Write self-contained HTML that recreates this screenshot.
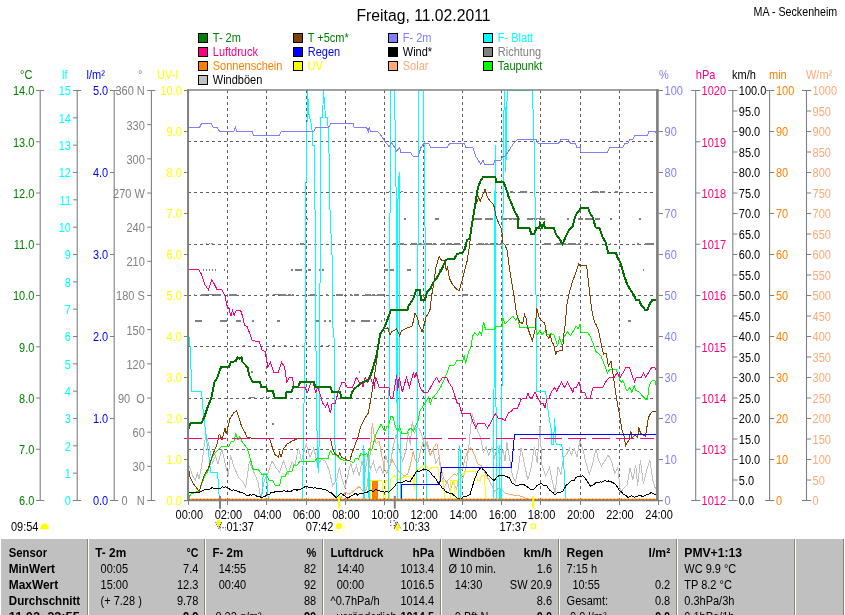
<!DOCTYPE html><html><head><meta charset="utf-8"><title>Freitag, 11.02.2011</title>
<style>html,body{margin:0;padding:0;background:#fff}svg{display:block;will-change:transform}text{font-family:"Liberation Sans",sans-serif;font-size:11px}.b{font-weight:bold}</style></head><body>
<svg width="845" height="615" viewBox="0 0 845 615">
<rect width="845" height="615" fill="#fff"/>
<text x="356.5" y="20.5" style="font-size:16px" textLength="134" lengthAdjust="spacingAndGlyphs">Freitag, 11.02.2011</text>
<text x="837.2" y="15" text-anchor="end" textLength="83.6" lengthAdjust="spacingAndGlyphs" transform="matrix(1 0 0 1.125 0 -0.887)">MA - Seckenheim</text>
<rect x="198.5" y="33.5" width="9" height="9" fill="#008000" stroke="#000" stroke-width="1" shape-rendering="crispEdges"/>
<text x="212.8" y="41.5" fill="#008000" transform="matrix(1 0 0 1.125 0 -4.200)">T- 2m</text>
<rect x="198.5" y="47.5" width="9" height="9" fill="#FF0080" stroke="#000" stroke-width="1" shape-rendering="crispEdges"/>
<text x="212.8" y="55.5" fill="#FF0080" transform="matrix(1 0 0 1.125 0 -5.950)">Luftdruck</text>
<rect x="198.5" y="61.5" width="9" height="9" fill="#FF8000" stroke="#000" stroke-width="1" shape-rendering="crispEdges"/>
<text x="212.8" y="69.5" fill="#FF8000" transform="matrix(1 0 0 1.125 0 -7.700)">Sonnenschein</text>
<rect x="198.5" y="75.5" width="9" height="9" fill="#C0C0C0" stroke="#000" stroke-width="1" shape-rendering="crispEdges"/>
<text x="212.8" y="83.5" fill="#000" transform="matrix(1 0 0 1.125 0 -9.450)">Windböen</text>
<rect x="293.5" y="33.5" width="9" height="9" fill="#804000" stroke="#000" stroke-width="1" shape-rendering="crispEdges"/>
<text x="307.8" y="41.5" fill="#008000" transform="matrix(1 0 0 1.125 0 -4.200)">T +5cm*</text>
<rect x="293.5" y="47.5" width="9" height="9" fill="#0000FF" stroke="#000" stroke-width="1" shape-rendering="crispEdges"/>
<text x="307.8" y="55.5" fill="#0000FF" transform="matrix(1 0 0 1.125 0 -5.950)">Regen</text>
<rect x="293.5" y="61.5" width="9" height="9" fill="#FFFF00" stroke="#000" stroke-width="1" shape-rendering="crispEdges"/>
<text x="307.8" y="69.5" fill="#FFFF00" transform="matrix(1 0 0 1.125 0 -7.700)">UV</text>
<rect x="388.5" y="33.5" width="9" height="9" fill="#8080FF" stroke="#000" stroke-width="1" shape-rendering="crispEdges"/>
<text x="402.8" y="41.5" fill="#8080FF" transform="matrix(1 0 0 1.125 0 -4.200)">F- 2m</text>
<rect x="388.5" y="47.5" width="9" height="9" fill="#000" stroke="#000" stroke-width="1" shape-rendering="crispEdges"/>
<text x="402.8" y="55.5" fill="#000" transform="matrix(1 0 0 1.125 0 -5.950)">Wind*</text>
<rect x="388.5" y="61.5" width="9" height="9" fill="#FFA878" stroke="#000" stroke-width="1" shape-rendering="crispEdges"/>
<text x="402.8" y="69.5" fill="#FFA878" transform="matrix(1 0 0 1.125 0 -7.700)">Solar</text>
<rect x="483.5" y="33.5" width="9" height="9" fill="#00FFFF" stroke="#000" stroke-width="1" shape-rendering="crispEdges"/>
<text x="497.8" y="41.5" fill="#00FFFF" transform="matrix(1 0 0 1.125 0 -4.200)">F- Blatt</text>
<rect x="483.5" y="47.5" width="9" height="9" fill="#808080" stroke="#000" stroke-width="1" shape-rendering="crispEdges"/>
<text x="497.8" y="55.5" fill="#808080" transform="matrix(1 0 0 1.125 0 -5.950)">Richtung</text>
<rect x="483.5" y="61.5" width="9" height="9" fill="#00FF00" stroke="#000" stroke-width="1" shape-rendering="crispEdges"/>
<text x="497.8" y="69.5" fill="#008000" transform="matrix(1 0 0 1.125 0 -7.700)">Taupunkt</text>
<defs><clipPath id="cp"><rect x="188" y="90" width="470" height="411"/></clipPath></defs>
<path d="M227.5 90V500 M266.5 90V500 M306.5 90V500 M345.5 90V500 M384.5 90V500 M423.5 90V500 M462.5 90V500 M501.5 90V500 M540.5 90V500 M580.5 90V500 M619.5 90V500 M188 141.50H657 M188 192.50H657 M188 244.50H657 M188 295.50H657 M188 346.50H657 M188 398.50H657 M188 449.50H657" stroke="#606060" stroke-width="1" stroke-dasharray="3 3" fill="none" shape-rendering="crispEdges"/>
<g clip-path="url(#cp)" shape-rendering="crispEdges">
<rect x="389.0" y="191.3" width="1.6" height="1.0" fill="#808080"/>
<rect x="401.0" y="191.3" width="1.6" height="1.0" fill="#808080"/>
<rect x="509.9" y="191.3" width="2.9" height="2.0" fill="#808080"/>
<rect x="519.6" y="191.3" width="7.3" height="2.0" fill="#808080"/>
<rect x="591.8" y="191.3" width="5.9" height="2.0" fill="#808080"/>
<rect x="599.6" y="191.3" width="5.3" height="2.0" fill="#808080"/>
<rect x="614.7" y="191.3" width="3.1" height="2.0" fill="#808080"/>
<rect x="306.5" y="217.5" width="1.6" height="2.0" fill="#808080"/>
<rect x="404.0" y="217.5" width="1.6" height="2.0" fill="#808080"/>
<rect x="435.1" y="217.5" width="3.9" height="2.0" fill="#808080"/>
<rect x="473.8" y="217.5" width="7.8" height="2.0" fill="#808080"/>
<rect x="484.5" y="217.5" width="8.8" height="2.0" fill="#808080"/>
<rect x="501.0" y="218.0" width="18.6" height="1" fill="#808080"/>
<rect x="501.0" y="217.5" width="6.0" height="2" fill="#808080"/>
<rect x="508.6" y="217.5" width="3.0" height="2" fill="#808080"/>
<rect x="513.2" y="217.5" width="6.4" height="2" fill="#808080"/>
<rect x="526.5" y="218.0" width="18.5" height="1" fill="#808080"/>
<rect x="526.5" y="217.5" width="6.0" height="2" fill="#808080"/>
<rect x="534.1" y="217.5" width="3.0" height="2" fill="#808080"/>
<rect x="538.7" y="217.5" width="6.3" height="2" fill="#808080"/>
<rect x="567.0" y="217.5" width="1.6" height="2.0" fill="#808080"/>
<rect x="578.2" y="217.5" width="4.8" height="2.0" fill="#808080"/>
<rect x="585.0" y="217.5" width="6.8" height="2.0" fill="#808080"/>
<rect x="594.8" y="217.5" width="4.8" height="2.0" fill="#808080"/>
<rect x="610.0" y="217.5" width="1.6" height="2.0" fill="#808080"/>
<rect x="639.2" y="217.5" width="1.6" height="2.0" fill="#808080"/>
<rect x="205.5" y="243.0" width="1.6" height="1.0" fill="#808080"/>
<rect x="208.5" y="243.0" width="1.6" height="1.0" fill="#808080"/>
<rect x="211.0" y="243.0" width="1.6" height="1.0" fill="#808080"/>
<rect x="300.1" y="243.0" width="4.3" height="2.0" fill="#808080"/>
<rect x="392.8" y="243.0" width="4.2" height="2.0" fill="#808080"/>
<rect x="399.0" y="243.0" width="4.5" height="2.0" fill="#808080"/>
<rect x="411.3" y="243.5" width="24.4" height="1" fill="#808080"/>
<rect x="411.3" y="243.0" width="6.0" height="2" fill="#808080"/>
<rect x="418.9" y="243.0" width="3.0" height="2" fill="#808080"/>
<rect x="423.5" y="243.0" width="8.0" height="2" fill="#808080"/>
<rect x="433.1" y="243.0" width="2.6" height="2" fill="#808080"/>
<rect x="440.6" y="243.0" width="4.4" height="2.0" fill="#808080"/>
<rect x="447.0" y="243.0" width="5.0" height="2.0" fill="#808080"/>
<rect x="454.0" y="243.0" width="6.0" height="2.0" fill="#808080"/>
<rect x="477.7" y="243.5" width="25.3" height="1" fill="#808080"/>
<rect x="477.7" y="243.0" width="6.0" height="2" fill="#808080"/>
<rect x="485.3" y="243.0" width="3.0" height="2" fill="#808080"/>
<rect x="489.9" y="243.0" width="8.0" height="2" fill="#808080"/>
<rect x="499.5" y="243.0" width="3.5" height="2" fill="#808080"/>
<rect x="544.0" y="243.0" width="6.9" height="2.0" fill="#808080"/>
<rect x="555.7" y="243.5" width="24.4" height="1" fill="#808080"/>
<rect x="555.7" y="243.0" width="6.0" height="2" fill="#808080"/>
<rect x="563.3" y="243.0" width="3.0" height="2" fill="#808080"/>
<rect x="567.9" y="243.0" width="8.0" height="2" fill="#808080"/>
<rect x="577.5" y="243.0" width="2.6" height="2" fill="#808080"/>
<rect x="585.0" y="243.0" width="3.0" height="2.0" fill="#808080"/>
<rect x="605.5" y="243.0" width="1.6" height="2.0" fill="#808080"/>
<rect x="609.5" y="243.0" width="1.8" height="2.0" fill="#808080"/>
<rect x="637.3" y="243.0" width="1.6" height="2.0" fill="#808080"/>
<rect x="644.5" y="243.0" width="9.8" height="2.0" fill="#808080"/>
<rect x="202.6" y="268.6" width="1.6" height="2.0" fill="#808080"/>
<rect x="205.6" y="268.6" width="1.6" height="2.0" fill="#808080"/>
<rect x="208.6" y="268.6" width="1.6" height="2.0" fill="#808080"/>
<rect x="211.6" y="268.6" width="1.6" height="2.0" fill="#808080"/>
<rect x="214.6" y="268.6" width="1.6" height="2.0" fill="#808080"/>
<rect x="223.5" y="268.6" width="1.6" height="2.0" fill="#808080"/>
<rect x="291.3" y="268.6" width="1.7" height="2.0" fill="#808080"/>
<rect x="295.0" y="268.6" width="7.0" height="2.0" fill="#808080"/>
<rect x="308.0" y="268.6" width="2.9" height="2.0" fill="#808080"/>
<rect x="318.7" y="268.6" width="1.8" height="2.0" fill="#808080"/>
<rect x="322.0" y="268.6" width="1.6" height="2.0" fill="#808080"/>
<rect x="384.0" y="268.6" width="4.0" height="2.0" fill="#808080"/>
<rect x="390.0" y="268.6" width="3.8" height="2.0" fill="#808080"/>
<rect x="407.4" y="268.6" width="3.6" height="2.0" fill="#808080"/>
<rect x="427.5" y="268.6" width="1.6" height="2.0" fill="#808080"/>
<rect x="438.7" y="268.6" width="2.9" height="2.0" fill="#808080"/>
<rect x="618.3" y="268.6" width="1.6" height="2.0" fill="#808080"/>
<rect x="642.5" y="268.6" width="1.6" height="2.0" fill="#808080"/>
<rect x="193.5" y="294.1" width="1.6" height="2.0" fill="#808080"/>
<rect x="200.6" y="294.1" width="5.4" height="2.0" fill="#808080"/>
<rect x="206.0" y="294.1" width="8.0" height="1.0" fill="#808080"/>
<rect x="214.0" y="294.1" width="7.0" height="2.0" fill="#808080"/>
<rect x="228.9" y="294.1" width="7.8" height="2.0" fill="#808080"/>
<rect x="266.0" y="294.1" width="3.0" height="2.0" fill="#808080"/>
<rect x="272.8" y="294.1" width="7.2" height="1.0" fill="#808080"/>
<rect x="280.0" y="294.6" width="14.3" height="1" fill="#808080"/>
<rect x="280.0" y="294.1" width="6.0" height="2" fill="#808080"/>
<rect x="287.6" y="294.1" width="3.0" height="2" fill="#808080"/>
<rect x="292.2" y="294.1" width="2.1" height="2" fill="#808080"/>
<rect x="309.9" y="294.1" width="5.8" height="2.0" fill="#808080"/>
<rect x="326.0" y="294.1" width="1.6" height="2.0" fill="#808080"/>
<rect x="336.2" y="294.1" width="6.8" height="2.0" fill="#808080"/>
<rect x="350.0" y="294.1" width="2.0" height="2.0" fill="#808080"/>
<rect x="354.0" y="294.1" width="4.7" height="2.0" fill="#808080"/>
<rect x="364.5" y="294.6" width="19.5" height="1" fill="#808080"/>
<rect x="364.5" y="294.1" width="6.0" height="2" fill="#808080"/>
<rect x="372.1" y="294.1" width="3.0" height="2" fill="#808080"/>
<rect x="376.7" y="294.1" width="7.3" height="2" fill="#808080"/>
<rect x="462.0" y="294.1" width="6.0" height="2.0" fill="#808080"/>
<rect x="194.8" y="319.7" width="6.8" height="2.0" fill="#808080"/>
<rect x="220.1" y="319.7" width="6.9" height="2.0" fill="#808080"/>
<rect x="236.1" y="319.7" width="4.5" height="2.0" fill="#808080"/>
<rect x="252.0" y="319.7" width="1.6" height="2.0" fill="#808080"/>
<rect x="276.7" y="319.7" width="3.3" height="2.0" fill="#808080"/>
<rect x="315.7" y="319.7" width="3.0" height="2.0" fill="#808080"/>
<rect x="324.0" y="319.7" width="1.6" height="2.0" fill="#808080"/>
<rect x="329.0" y="319.7" width="1.6" height="2.0" fill="#808080"/>
<rect x="345.0" y="319.7" width="3.0" height="2.0" fill="#808080"/>
<rect x="350.9" y="319.7" width="3.9" height="2.0" fill="#808080"/>
<rect x="360.6" y="319.7" width="9.8" height="2.0" fill="#808080"/>
<rect x="374.3" y="319.7" width="1.9" height="2.0" fill="#808080"/>
<rect x="380.5" y="319.7" width="1.6" height="2.0" fill="#808080"/>
<rect x="627.9" y="319.7" width="3.0" height="2.0" fill="#808080"/>
<rect x="243.0" y="345.3" width="1.6" height="1.0" fill="#808080"/>
<rect x="273.3" y="345.3" width="1.6" height="1.0" fill="#808080"/>
<rect x="284.0" y="345.3" width="1.6" height="1.0" fill="#808080"/>
<rect x="295.7" y="345.3" width="1.6" height="1.0" fill="#808080"/>
<rect x="321.0" y="345.3" width="1.6" height="1.0" fill="#808080"/>
<rect x="328.0" y="345.3" width="1.6" height="1.0" fill="#808080"/>
<rect x="251.0" y="370.8" width="1.6" height="2.0" fill="#808080"/>
<rect x="264.5" y="370.8" width="1.6" height="2.0" fill="#808080"/>
<rect x="358.5" y="370.8" width="1.6" height="2.0" fill="#808080"/>
<rect x="249.4" y="396.5" width="5.8" height="1.0" fill="#808080"/>
<rect x="262.5" y="396.5" width="1.6" height="1.0" fill="#808080"/>
<rect x="268.4" y="396.5" width="1.6" height="1.0" fill="#808080"/>
<rect x="272.3" y="423.0" width="1.6" height="2.0" fill="#808080"/>
</g>
<g clip-path="url(#cp)" shape-rendering="crispEdges">
<polyline points="189.2,465.7 192.6,476.1 195.4,479.9 197.3,473.3 199.2,479.0 202.0,462.9 205.8,433.5 208.7,444.9 212.5,462.9 215.3,456.3 218.1,463.8 221.9,448.7 225.7,465.7 228.2,476.1 230.5,455.3 234.2,467.6 239.0,478.0 242.8,481.8 245.6,487.5 249.4,461.9 253.2,470.5 257.9,481.8 260.8,497.9 264.5,479.9 268.3,472.3 272.1,461.0 275.9,467.6 279.7,472.3 283.5,461.0 288.2,474.2 292.0,461.9 294.8,465.7 298.6,447.7 301.5,461.0 306.2,443.9 310.0,457.2 313.8,447.7 317.6,465.7 321.4,459.1 325.2,461.0 328.9,469.5 332.7,485.6 336.5,479.9 339.4,467.6 342.2,479.9 345.0,487.5 346.9,479.9 350.7,462.9 353.5,473.3 356.4,465.7 359.2,476.1 362.0,461.0 364.9,472.3 367.7,457.2 370.6,468.6 373.4,461.9 376.3,472.3 380.0,465.7 382.9,473.3 385.7,455.3 389.5,468.6 393.3,445.8 396.1,434.5 399.0,449.6 402.8,461.0 405.6,451.5 408.4,432.3 410.3,445.0 412.3,420.6 414.3,434.3 416.2,427.4 419.1,428.4 421.7,434.5 424.5,445.8 427.4,442.0 430.2,455.3 433.1,449.6 435.9,462.9 438.8,457.2 441.6,476.1 444.4,487.5 447.3,481.8 450.1,491.3 453.0,481.8 456.7,489.4 459.6,468.6 462.4,479.9 466.2,467.6 469.1,443.9 470.9,425.0 472.2,413.8 474.8,422.6 477.7,431.3 480.4,436.4 483.3,452.5 486.1,446.8 488.9,455.3 491.8,447.7 494.6,457.2 497.5,445.8 500.3,459.1 503.1,449.6 505.0,461.0 506.9,442.0 509.7,459.1 512.6,476.1 515.4,481.8 518.3,468.6 521.1,447.7 523.9,461.0 527.7,479.9 530.6,470.5 534.4,446.8 537.2,462.9 540.0,426.5 541.9,464.8 545.7,476.1 549.5,467.6 553.3,485.6 555.2,493.2 558.0,466.7 560.9,474.2 563.7,457.2 566.6,454.4 569.4,448.7 571.3,455.3 574.1,448.7 577.0,457.2 579.8,441.0 582.7,448.7 585.5,461.0 589.3,474.2 592.1,465.7 595.9,448.7 598.8,461.0 601.6,465.7 605.4,460.0 608.2,455.3 611.1,460.0 614.8,473.3 617.7,467.6 620.5,492.2 624.3,487.5 627.2,484.7 630.0,467.6 632.8,479.9 635.7,464.8 637.6,485.6 640.4,460.0 643.3,483.7 647.0,468.6 649.9,460.0 652.7,479.9 655.6,489.4" fill="none" stroke="#C0C0C0" stroke-width="1" />
<polyline points="339.0,500.0 345.0,492.2 349.7,494.1 354.5,490.3 359.2,486.6 363.0,491.3 366.8,489.4 368.7,472.3 370.6,447.7 372.3,423.5 374.4,436.4 376.3,443.9 379.1,441.1 381.9,456.3 384.8,469.5 386.7,473.3 389.5,465.7 392.3,460.0 395.2,465.7 398.0,470.5 400.9,473.3 404.7,476.1 407.5,474.2 410.3,465.7 413.2,451.5 415.1,459.1 417.9,462.9 420.8,449.6 424.5,437.3 427.4,446.8 430.2,455.3 433.1,448.7 436.9,443.0 438.8,453.4 440.6,465.7 443.5,478.0 446.3,481.8 450.1,478.0 453.9,474.2 456.7,475.2 459.6,470.5 462.4,469.5 465.3,458.1 468.1,450.6 470.9,447.7 474.7,455.3 477.6,463.8 481.4,465.7 485.2,473.3 489.9,481.8 494.6,491.3 499.4,487.5 505.0,493.2 510.7,494.7 520.2,496.0 527.7,498.9 533.0,500.0" fill="none" stroke="#FFA878" stroke-width="1" />
<polyline points="370.6,500.0 371.0,480.5 381.9,480.5 383.8,500.0 385.7,500.0 385.7,480.5 388.0,480.5 388.5,500.0" fill="none" stroke="#FFFF00" stroke-width="1" />
<polyline points="389.5,500.0 390.5,480.0 394.2,475.2 397.1,480.0 401.8,478.0 405.0,476.1 411.3,477.0 413.5,480.0 414.3,490.3 415.1,471.4 420.8,467.6 425.5,463.8 428.3,470.5 432.1,467.6 437.8,467.6 439.7,480.0 443.5,480.0 444.4,500.0" fill="none" stroke="#FFFF00" stroke-width="1" />
<polyline points="450.1,500.0 450.1,480.0 453.9,480.0 454.4,500.0 454.8,480.0 458.6,480.0 462.4,475.2 466.2,471.4 475.7,471.4 477.6,480.0 480.4,480.0 481.4,475.2 484.2,475.2 486.1,500.0" fill="none" stroke="#FFFF00" stroke-width="1" />
<rect x="372" y="480.5" width="6.2" height="19.5" fill="#FF8000"/>
<polyline points="189.6,336.7 192.0,391.3 201.6,391.3 203.5,414.8 206.8,441.1 209.6,461.0 210.6,472.3 217.6,472.3 219.1,495.0 220.0,500.0" fill="none" stroke="#00FFFF" stroke-width="1" />
<polyline points="261.7,500.0 263.2,473.3 266.4,473.3 268.3,500.0" fill="none" stroke="#00FFFF" stroke-width="1" />
<polyline points="302.5,500.0 303.4,440.0 305.4,320.0 305.4,215.0 306.6,150.0 307.5,90.4 308.9,114.0 311.8,126.0 312.8,145.5 314.4,145.5 314.4,205.0 315.7,215.0 315.7,325.0 317.2,445.0 318.2,473.3 319.1,445.0 319.2,290.0 320.2,281.0 320.2,117.2 322.6,117.0 323.5,90.4 325.5,117.0 327.4,117.0 328.4,131.8 329.4,166.0 329.8,205.0 331.3,241.0 332.7,268.4 332.7,325.0 334.3,340.6 334.9,440.0 336.5,500.0" fill="none" stroke="#00FFFF" stroke-width="1" />
<polyline points="363.0,500.0 363.9,445.0 365.0,500.0" fill="none" stroke="#00FFFF" stroke-width="1" />
<polyline points="368.0,500.0 368.7,453.4 369.5,500.0" fill="none" stroke="#00FFFF" stroke-width="1" />
<polyline points="388.2,500.0 389.5,325.0 389.5,226.5 390.3,205.0 390.3,90.4 394.8,90.4 394.8,118.0 395.7,125.0 396.1,205.0 396.7,325.0 397.4,500.0" fill="none" stroke="#00FFFF" stroke-width="1" />
<polyline points="398.0,500.0 397.7,206.0 399.2,172.0 399.4,325.0 400.4,500.0" fill="none" stroke="#00FFFF" stroke-width="1" />
<polyline points="416.6,500.0 417.6,325.0 418.6,130.0 418.6,90.4 423.6,90.4 423.6,137.7 424.4,145.0 424.4,220.0 425.6,234.0 425.6,440.0 426.4,500.0" fill="none" stroke="#00FFFF" stroke-width="1" />
<polyline points="458.3,500.0 458.3,459.1 459.6,444.9 460.9,459.0 460.9,500.0" fill="none" stroke="#00FFFF" stroke-width="1" />
<polyline points="493.1,500.0 494.5,330.0 495.2,145.5 495.6,330.0 496.5,500.0" fill="none" stroke="#00FFFF" stroke-width="1" />
<polyline points="499.4,500.0 499.4,444.9 500.2,500.0" fill="none" stroke="#00FFFF" stroke-width="1" />
<polyline points="501.3,500.0 502.4,325.0 503.0,215.0 504.0,110.4 504.8,90.4 505.8,172.4 507.2,90.4 532.3,90.4 533.9,131.8 534.7,192.3 535.6,205.0 535.6,289.0 536.4,300.0 536.4,391.3 545.6,391.3 547.0,403.0 548.9,416.7 551.4,430.4 551.4,444.9 553.5,444.9 554.6,418.0 556.1,444.9 561.8,444.9 563.7,462.9 565.6,500.0" fill="none" stroke="#00FFFF" stroke-width="1" />
<polyline points="188.0,127.3 199.6,127.3 201.6,123.4 211.3,123.4 213.0,127.3 217.0,127.3 219.5,131.4 233.8,131.4 235.3,127.3 236.8,131.4 252.3,131.4 253.5,135.3 279.2,135.3 281.6,131.4 313.8,131.4 315.7,127.3 328.4,127.3 331.0,123.4 353.2,123.4 354.0,127.3 366.5,127.3 368.4,131.4 369.2,127.5 370.4,131.4 377.2,131.4 381.0,135.3 385.0,141.6 389.0,146.5 391.8,142.5 396.7,151.3 399.6,147.4 400.6,152.3 410.4,152.3 413.0,156.2 418.2,156.2 421.0,147.4 424.0,143.1 428.5,143.1 430.5,147.4 447.4,147.4 449.8,143.1 464.0,143.1 466.0,147.4 472.8,147.4 475.7,156.2 480.6,164.0 483.1,160.1 484.5,164.4 493.3,164.4 495.2,160.1 501.0,160.1 503.0,156.2 505.0,156.2 508.0,152.3 510.9,147.4 513.8,143.1 517.7,139.6 536.2,139.6 538.2,143.1 558.7,143.1 560.6,139.6 568.4,139.6 570.4,143.1 575.2,143.1 576.8,147.4 580.0,147.4 581.0,152.3 607.4,152.3 609.8,147.4 623.0,147.4 625.0,143.1 628.0,143.1 629.9,139.6 632.8,139.6 634.8,135.3 647.4,135.3 649.0,131.4 655.2,131.4 657.0,133.5" fill="none" stroke="#8080FF" stroke-width="1" />
<polyline points="188.0,500.0 188.8,497.9 190.7,494.1 195.0,492.5 199.2,491.0 200.2,488.4 203.9,478.0 208.7,469.5 212.5,456.3 216.3,451.5 221.0,446.8 228.6,446.8 231.4,441.1 233.9,441.1 235.8,433.5 238.0,440.2 239.9,436.4 241.8,441.1 247.5,448.7 250.3,459.1 253.2,469.1 257.9,469.1 261.7,474.2 266.4,474.2 269.3,480.9 273.1,480.9 275.0,485.2 279.7,485.2 281.6,476.1 285.4,476.1 287.3,471.0 292.0,471.0 293.9,465.7 296.7,465.7 299.6,461.6 314.7,461.6 316.6,458.7 328.0,458.7 330.5,450.6 332.7,454.4 336.5,455.3 341.3,459.7 349.7,461.0 353.5,462.9 355.4,458.1 358.3,459.1 361.1,453.4 363.9,455.3 366.8,453.4 367.7,456.3 369.6,448.7 371.5,450.6 373.4,443.9 376.2,433.3 381.1,424.5 385.0,431.3 387.0,426.5 388.3,427.4 390.9,416.3 392.8,416.7 395.7,427.4 397.7,431.3 399.6,426.5 401.6,433.3 407.4,433.3 408.4,429.4 411.3,428.4 413.3,431.3 416.2,424.5 418.2,420.6 420.1,410.9 423.0,406.0 426.0,402.0 428.5,396.8 430.3,404.0 431.8,399.1 436.7,393.3 440.6,387.4 444.5,378.7 447.4,371.8 449.4,365.6 454.3,365.0 457.2,360.1 463.0,360.1 464.4,355.2 465.6,364.0 467.9,354.3 470.9,346.5 472.8,335.7 474.8,332.8 477.7,335.7 479.6,331.8 481.6,334.8 483.5,322.0 484.5,325.0 485.5,329.9 494.3,329.9 496.2,326.0 502.1,326.0 503.0,318.0 505.0,324.0 512.8,316.2 515.7,320.0 517.7,317.2 519.6,327.0 535.2,327.0 537.2,334.8 540.1,329.9 542.0,334.8 545.0,330.9 547.0,334.8 550.9,333.8 553.8,334.8 557.7,345.5 559.6,337.7 561.6,343.5 563.5,337.7 567.4,331.8 570.4,335.7 573.3,330.9 576.2,326.0 578.2,328.9 580.1,324.0 581.1,332.8 587.9,332.8 590.9,337.7 593.8,345.5 595.7,351.3 600.6,355.2 604.5,365.0 607.4,372.8 609.4,369.9 616.2,369.9 618.2,374.8 621.1,382.6 623.0,380.6 627.0,391.3 629.9,387.4 631.8,392.3 634.2,385.5 635.7,390.4 639.6,392.3 642.6,396.2 645.5,399.1 647.4,399.1 649.4,384.5 652.3,380.6 654.9,380.6 657.0,388.4" fill="none" stroke="#00FF00" stroke-width="1" />
<polyline points="188.0,462.9 189.7,476.1 193.5,483.7 199.2,491.3 203.9,476.1 208.7,467.6 212.5,455.3 217.2,443.9 219.1,434.5 220.1,435.2 222.1,440.1 225.0,428.4 226.4,434.3 229.9,418.7 233.8,412.8 236.7,410.9 238.7,416.7 241.6,426.5 245.5,433.3 247.4,438.2 249.4,437.2 252.3,438.4 269.5,438.4 272.1,446.8 275.0,454.4 278.4,457.6 279.7,452.5 281.0,457.2 283.5,448.7 287.3,443.9 293.0,440.5 298.6,438.6 330.6,438.6 332.3,447.7 334.6,453.4 338.4,456.3 339.9,452.5 341.3,457.2 345.0,459.0 349.7,461.0 351.6,454.4 355.4,443.9 357.7,438.2 360.6,426.5 364.5,418.7 368.4,412.8 371.3,396.2 374.3,376.7 376.2,364.0 378.2,348.4 380.1,332.8 382.1,331.8 384.0,328.9 387.9,327.9 389.9,334.8 391.8,331.8 396.7,328.9 399.6,335.7 401.6,330.9 407.4,327.9 412.3,326.0 414.9,313.3 417.6,318.2 419.1,325.0 422.1,331.8 424.0,326.0 426.0,317.2 429.9,310.4 431.8,294.8 433.8,283.0 435.7,268.4 439.2,256.3 441.6,260.6 444.5,260.6 446.5,271.3 447.4,266.5 449.4,278.2 452.3,284.0 456.2,288.9 459.1,290.9 461.7,282.1 464.0,273.3 467.0,261.6 468.9,249.9 470.9,234.3 473.8,214.8 475.7,205.0 478.7,197.2 480.2,201.0 485.1,189.4 487.4,197.2 489.4,200.0 493.7,205.0 496.2,216.7 499.1,224.5 501.7,229.4 503.0,243.0 505.0,245.0 507.0,249.9 509.9,271.3 513.8,294.8 516.7,314.3 519.6,322.0 522.6,323.6 524.5,314.3 526.0,318.2 526.9,325.0 529.4,332.8 532.3,340.6 535.2,328.9 536.8,308.4 539.1,317.2 542.0,321.0 544.6,323.0 547.0,335.7 548.9,338.7 550.3,333.8 551.8,341.6 553.8,344.5 555.7,355.2 556.7,351.3 562.6,350.4 563.5,336.7 565.1,325.0 567.0,304.5 569.0,293.8 572.3,282.1 575.2,274.3 578.8,263.5 580.7,266.5 581.1,265.1 586.6,265.1 587.9,277.2 589.9,294.8 591.8,310.4 594.4,322.0 596.3,325.0 598.7,330.9 601.6,346.5 603.5,354.3 606.1,353.3 608.4,366.0 611.0,361.1 613.3,375.7 616.2,396.2 619.1,412.8 622.1,430.4 624.4,437.2 625.6,445.6 628.9,440.1 630.9,431.3 631.8,438.2 634.8,435.2 637.7,437.2 638.7,427.4 640.6,433.3 645.5,436.2 648.4,417.7 650.4,413.8 652.3,411.8 657.0,410.9" fill="none" stroke="#804000" stroke-width="1" />
<line x1="184.3" y1="438.5" x2="654" y2="438.5" stroke="#FF0080" stroke-width="1" stroke-dasharray="17.6 6.4"/>
<polyline points="188.0,269.0 198.3,269.0 201.6,274.3 204.5,284.0 208.4,289.9 211.7,280.1 214.3,284.0 217.2,289.9 222.0,289.9 225.0,295.7 227.0,305.5 229.0,308.4 230.9,316.2 232.4,310.4 234.2,315.2 236.1,310.4 240.6,310.4 242.6,316.2 244.5,325.0 247.4,327.0 252.3,340.6 259.1,341.6 262.1,350.4 265.0,351.3 267.9,367.0 270.3,362.1 273.8,372.4 278.3,372.4 281.6,362.1 284.5,367.0 286.9,382.2 289.4,377.3 292.3,377.3 294.3,387.0 305.0,387.4 307.5,392.3 310.9,382.2 312.8,382.2 315.7,392.3 317.7,387.4 319.6,392.3 322.6,403.0 325.5,407.0 327.4,403.0 330.4,412.8 332.3,403.0 335.2,403.0 338.2,392.3 340.1,387.0 342.0,382.6 345.0,382.6 347.0,387.0 352.8,387.0 356.3,377.3 359.6,382.6 361.6,382.6 363.1,387.0 365.1,377.3 367.4,382.6 370.4,377.3 372.3,382.6 374.3,387.0 375.8,377.3 379.1,387.0 388.9,387.0 390.3,398.2 392.8,398.2 396.7,375.3 397.7,391.3 399.2,377.3 402.2,392.3 406.5,377.3 409.4,387.4 413.3,372.8 414.9,377.3 416.2,372.4 420.1,387.4 423.0,392.3 427.9,392.3 433.8,381.6 436.7,377.3 439.2,382.6 442.6,377.3 446.5,377.3 449.4,383.5 452.3,387.4 455.2,397.2 457.2,403.0 459.1,403.0 461.7,413.2 469.9,413.2 471.8,418.7 473.8,423.5 475.7,427.8 477.7,423.5 484.5,423.5 487.4,427.8 490.4,423.5 495.2,413.4 498.2,418.3 502.1,418.7 505.0,420.6 507.0,415.7 508.9,412.8 511.8,410.9 513.8,408.0 517.7,408.0 520.6,400.1 522.6,398.2 526.5,398.2 528.0,392.9 530.0,398.2 532.3,397.2 535.2,392.3 538.2,399.1 541.1,403.0 543.0,403.0 545.0,408.0 547.0,398.8 548.9,398.8 550.9,392.9 554.8,387.4 556.7,391.3 558.7,387.0 561.6,382.2 564.5,387.4 567.4,382.2 570.4,387.4 572.9,392.3 574.3,387.4 576.2,387.4 579.1,382.2 581.5,392.3 584.6,392.3 587.0,398.2 589.9,398.2 593.2,387.4 602.6,387.4 605.5,382.2 609.4,377.3 614.3,377.3 617.2,372.8 620.1,377.3 623.0,372.8 626.0,367.5 629.5,367.5 631.8,374.8 634.8,382.2 636.1,377.3 641.6,377.3 643.5,372.8 645.9,377.3 648.4,372.8 651.7,367.5 654.9,367.5 657.0,371.4" fill="none" stroke="#FF0080" stroke-width="1" />
<polyline points="188.0,500.0 401.4,500.0 401.4,484.3 439.7,484.3 441.6,467.2 511.6,467.2 514.5,434.2 657.0,434.2" fill="none" stroke="#0000FF" stroke-width="1" />
<polyline points="188.0,492.5 189.6,492.3 191.3,493.0 192.9,492.2 194.5,492.9 196.1,492.6 197.8,492.1 199.4,492.7 201.0,491.1 202.7,490.9 204.3,489.6 205.9,489.2 207.6,489.3 209.2,489.6 210.8,488.1 212.4,487.9 214.1,488.3 215.7,488.9 217.3,488.5 219.0,488.0 220.6,488.4 222.2,486.6 223.9,487.4 225.5,486.7 227.1,487.5 228.7,488.4 230.4,489.6 232.0,490.6 233.6,489.7 235.3,490.4 236.9,490.9 238.5,491.3 240.2,492.4 241.8,492.5 243.4,493.2 245.0,494.1 246.7,495.4 248.3,495.3 249.9,494.9 251.6,495.1 253.2,494.6 254.8,494.9 256.5,496.0 258.1,496.4 259.7,496.3 261.3,497.5 263.0,496.9 264.6,496.6 266.2,495.5 267.9,494.0 269.5,494.4 271.1,492.5 272.8,492.3 274.4,492.2 276.0,490.8 277.6,491.7 279.3,491.4 280.9,492.0 282.5,491.4 284.2,490.5 285.8,491.3 287.4,491.0 289.1,492.1 290.7,491.4 292.3,490.6 293.9,489.7 295.6,489.9 297.2,490.1 298.8,489.4 300.5,489.6 302.1,488.2 303.7,487.7 305.4,486.2 307.0,486.4 308.6,487.1 310.2,487.2 311.9,487.6 313.5,488.2 315.1,487.4 316.8,488.2 318.4,488.0 320.0,488.3 321.7,488.5 323.3,489.8 324.9,489.4 326.5,490.1 328.2,490.9 329.8,492.6 331.4,492.7 333.1,494.5 334.7,496.0 336.3,497.7 338.0,496.2 339.6,494.5 341.2,493.4 342.8,494.6 344.5,495.5 346.1,497.1 347.7,498.1 349.4,497.0 351.0,496.1 352.6,495.1 354.3,494.1 355.9,493.5 357.5,495.1 359.1,494.1 360.8,493.3 362.4,493.5 364.0,492.9 365.7,492.4 367.3,492.1 368.9,490.9 370.6,490.6 372.2,491.2 373.8,491.4 375.4,489.6 377.1,490.1 378.7,490.5 380.3,491.3 382.0,491.9 383.6,492.0 385.2,492.0 386.9,491.6 388.5,492.4 390.1,490.9 391.7,489.3 393.4,487.9 395.0,485.7 396.6,483.3 398.3,482.4 399.9,482.7 401.5,482.8 403.2,481.8 404.8,481.2 406.4,480.3 408.0,481.9 409.7,481.9 411.3,479.6 412.9,477.0 414.6,474.5 416.2,472.0 417.8,470.9 419.5,471.2 421.1,470.8 422.7,469.4 424.3,469.4 426.0,469.4 427.6,470.1 429.2,471.1 430.9,473.0 432.5,475.9 434.1,476.8 435.8,478.6 437.4,482.0 439.0,483.7 440.6,485.5 442.3,488.2 443.9,489.1 445.5,491.4 447.2,492.6 448.8,493.0 450.4,493.3 452.1,493.6 453.7,495.1 455.3,496.1 456.9,497.9 458.6,498.4 460.2,499.5 461.8,498.1 463.5,496.8 465.1,496.6 466.7,496.1 468.4,495.3 470.0,494.6 471.6,489.3 473.2,483.9 474.9,478.4 476.5,474.4 478.1,470.7 479.8,468.9 481.4,467.5 483.0,469.3 484.7,470.7 486.3,472.8 487.9,475.3 489.5,476.6 491.2,478.5 492.8,479.6 494.4,480.5 496.1,478.2 497.7,476.4 499.3,475.6 501.0,475.3 502.6,475.1 504.2,475.5 505.8,476.2 507.5,477.0 509.1,477.6 510.7,480.7 512.4,483.7 514.0,483.8 515.6,485.5 517.3,485.9 518.9,485.0 520.5,484.3 522.1,484.1 523.8,484.3 525.4,485.9 527.0,486.3 528.7,488.0 530.3,489.2 531.9,489.1 533.6,489.6 535.2,488.0 536.8,485.8 538.4,484.5 540.1,484.0 541.7,483.6 543.3,485.3 545.0,485.8 546.6,485.4 548.2,488.2 549.9,490.3 551.5,491.6 553.1,492.8 554.7,494.7 556.4,493.6 558.0,492.2 559.6,492.8 561.3,491.9 562.9,491.1 564.5,488.4 566.2,485.0 567.8,484.2 569.4,482.7 571.0,480.9 572.7,480.7 574.3,480.2 575.9,477.5 577.6,476.4 579.2,476.3 580.8,477.0 582.5,475.8 584.1,477.2 585.7,478.9 587.3,481.7 589.0,483.9 590.6,486.5 592.2,485.4 593.9,484.6 595.5,482.8 597.1,482.8 598.8,482.8 600.4,481.9 602.0,482.1 603.6,481.3 605.3,480.6 606.9,481.9 608.5,481.0 610.2,481.6 611.8,482.1 613.4,483.0 615.1,483.9 616.7,486.0 618.3,488.5 619.9,491.1 621.6,492.0 623.2,494.6 624.8,495.0 626.5,495.9 628.1,497.4 629.7,496.4 631.4,495.8 633.0,496.3 634.6,497.2 636.2,496.6 637.9,496.1 639.5,495.1 641.1,495.8 642.8,496.7 644.4,496.0 646.0,495.2 647.7,494.2 649.3,493.9 650.9,492.5 652.5,493.4 654.2,494.3 655.8,494.9" fill="none" stroke="#000" stroke-width="1" />
<polyline points="188.0,430.0 188.8,427.4 190.9,422.6 201.6,422.6 204.5,416.7 208.4,405.0 211.3,398.2 214.3,382.6 217.2,377.7 221.1,367.0 228.9,367.0 230.9,362.1 235.7,361.1 237.7,357.2 239.6,358.5 241.6,357.2 242.6,362.1 247.4,367.0 249.4,375.7 252.3,381.6 260.1,381.6 261.1,386.5 266.0,386.5 267.9,391.3 272.8,391.3 274.8,397.6 285.5,397.6 286.5,392.3 291.3,392.3 293.3,387.0 298.2,387.0 300.1,382.2 313.8,382.2 315.3,387.0 330.4,387.0 332.3,391.9 340.1,391.9 341.1,397.6 350.9,397.6 351.8,392.3 354.8,388.4 359.6,384.5 363.5,381.6 367.4,380.6 370.4,375.7 373.3,367.0 376.2,356.2 378.2,346.5 380.1,333.8 383.0,329.9 385.5,325.0 390.9,310.0 407.4,310.0 408.4,306.0 413.3,298.7 416.2,289.9 419.7,289.9 421.1,299.6 425.0,299.6 427.0,291.8 430.9,287.9 432.8,283.0 436.7,278.2 441.6,269.4 445.5,260.6 448.4,258.7 454.3,258.7 457.2,253.8 462.1,252.8 465.0,248.9 467.0,240.1 469.9,238.2 472.8,218.7 475.3,205.0 477.7,188.4 480.6,180.6 483.5,176.7 495.2,176.7 496.2,181.6 503.0,181.6 505.0,185.5 509.0,198.0 511.8,204.0 514.8,211.8 518.3,217.7 518.3,228.0 529.4,228.0 531.3,233.9 534.3,233.9 536.2,228.4 539.1,228.0 540.1,223.5 542.0,228.0 544.0,223.5 545.0,228.0 553.8,228.0 556.1,234.3 559.6,239.1 562.6,244.0 565.5,237.2 569.4,229.4 572.3,227.4 575.2,216.7 577.2,212.8 581.1,208.0 588.0,208.0 589.9,212.8 592.8,217.7 595.7,227.4 599.6,228.4 602.6,237.2 605.5,242.0 608.4,253.4 616.2,253.4 618.2,259.6 620.1,261.6 624.0,275.2 627.0,284.0 630.9,290.9 633.8,294.8 635.7,299.6 638.7,299.6 641.6,305.5 645.1,309.8 647.4,309.8 649.4,304.5 652.3,300.0 657.0,300.0" fill="none" stroke="#007000" stroke-width="2" stroke-linejoin="miter"/>
</g>
<line x1="184.3" y1="438.5" x2="189" y2="438.5" stroke="#FF0080" stroke-width="1" shape-rendering="crispEdges"/>
<line x1="189" y1="499.4" x2="657" y2="499.4" stroke="#FF8000" stroke-width="1.4"/>
<line x1="189" y1="499.4" x2="657" y2="499.4" stroke="#806040" stroke-width="1.4" stroke-dasharray="1 2.6"/>
<line x1="184" y1="500.6" x2="663" y2="500.6" stroke="#808080" stroke-width="1.1"/>
<line x1="188.05" y1="89.2" x2="188.05" y2="501" stroke="#808080" stroke-width="2"/>
<line x1="657.4" y1="89.2" x2="657.4" y2="501" stroke="#808080" stroke-width="2.7"/>
<line x1="187.1" y1="89.95" x2="658.8" y2="89.95" stroke="#808080" stroke-width="1.6"/>
<path d="M188.5 500V505 M227.5 500V505 M266.5 500V505 M306.5 500V505 M345.5 500V505 M384.5 500V505 M423.5 500V505 M462.5 500V505 M501.5 500V505 M540.5 500V505 M580.5 500V505 M619.5 500V505 M658.5 500V505" stroke="#808080" stroke-width="1" fill="none"/>
<line x1="220" y1="496" x2="220" y2="508.7" stroke="#808080" stroke-width="2"/>
<line x1="394.8" y1="496" x2="394.8" y2="508.7" stroke="#808080" stroke-width="2"/>
<line x1="339" y1="496" x2="339" y2="508.7" stroke="#FFFF00" stroke-width="2"/>
<line x1="533.2" y1="496" x2="533.2" y2="508.7" stroke="#FFFF00" stroke-width="2"/>
<line x1="40.2" y1="90" x2="40.2" y2="500.5" stroke="#808080" stroke-width="1.1"/>
<text x="34.3" y="94.4" fill="#008000" text-anchor="end" xml:space="preserve" transform="matrix(1 0 0 1.125 0 -10.812)">14.0</text>
<text x="34.3" y="145.7" fill="#008000" text-anchor="end" xml:space="preserve" transform="matrix(1 0 0 1.125 0 -17.225)">13.0</text>
<text x="34.3" y="196.9" fill="#008000" text-anchor="end" xml:space="preserve" transform="matrix(1 0 0 1.125 0 -23.625)">12.0</text>
<text x="34.3" y="248.2" fill="#008000" text-anchor="end" xml:space="preserve" transform="matrix(1 0 0 1.125 0 -30.037)">11.0</text>
<text x="34.3" y="299.4" fill="#008000" text-anchor="end" xml:space="preserve" transform="matrix(1 0 0 1.125 0 -36.438)">10.0</text>
<text x="34.3" y="350.6" fill="#008000" text-anchor="end" xml:space="preserve" transform="matrix(1 0 0 1.125 0 -42.838)">9.0</text>
<text x="34.3" y="401.9" fill="#008000" text-anchor="end" xml:space="preserve" transform="matrix(1 0 0 1.125 0 -49.250)">8.0</text>
<text x="34.3" y="453.1" fill="#008000" text-anchor="end" xml:space="preserve" transform="matrix(1 0 0 1.125 0 -55.650)">7.0</text>
<text x="34.3" y="504.4" fill="#008000" text-anchor="end" xml:space="preserve" transform="matrix(1 0 0 1.125 0 -62.062)">6.0</text>
<path d="M36.0 90.50H44.2 M36.0 141.75H40.2 M36.0 193.00H40.2 M36.0 244.25H40.2 M36.0 295.50H40.2 M36.0 346.75H40.2 M36.0 398.00H40.2 M36.0 449.25H40.2 M36.0 500.50H44.2" stroke="#808080" stroke-width="1" fill="none"/>
<text x="20.0" y="77.7" fill="#008000" transform="matrix(1 0 0 1.125 0 -8.725)">°C</text>
<line x1="77.2" y1="90" x2="77.2" y2="500.5" stroke="#808080" stroke-width="1.1"/>
<text x="71.0" y="94.4" fill="#00FFFF" text-anchor="end" xml:space="preserve" transform="matrix(1 0 0 1.125 0 -10.812)">15</text>
<text x="71.0" y="121.7" fill="#00FFFF" text-anchor="end" xml:space="preserve" transform="matrix(1 0 0 1.125 0 -14.225)">14</text>
<text x="71.0" y="149.1" fill="#00FFFF" text-anchor="end" xml:space="preserve" transform="matrix(1 0 0 1.125 0 -17.650)">13</text>
<text x="71.0" y="176.4" fill="#00FFFF" text-anchor="end" xml:space="preserve" transform="matrix(1 0 0 1.125 0 -21.062)">12</text>
<text x="71.0" y="203.7" fill="#00FFFF" text-anchor="end" xml:space="preserve" transform="matrix(1 0 0 1.125 0 -24.475)">11</text>
<text x="71.0" y="231.1" fill="#00FFFF" text-anchor="end" xml:space="preserve" transform="matrix(1 0 0 1.125 0 -27.900)">10</text>
<text x="71.0" y="258.4" fill="#00FFFF" text-anchor="end" xml:space="preserve" transform="matrix(1 0 0 1.125 0 -31.312)">9</text>
<text x="71.0" y="285.7" fill="#00FFFF" text-anchor="end" xml:space="preserve" transform="matrix(1 0 0 1.125 0 -34.725)">8</text>
<text x="71.0" y="313.1" fill="#00FFFF" text-anchor="end" xml:space="preserve" transform="matrix(1 0 0 1.125 0 -38.150)">7</text>
<text x="71.0" y="340.4" fill="#00FFFF" text-anchor="end" xml:space="preserve" transform="matrix(1 0 0 1.125 0 -41.562)">6</text>
<text x="71.0" y="367.7" fill="#00FFFF" text-anchor="end" xml:space="preserve" transform="matrix(1 0 0 1.125 0 -44.975)">5</text>
<text x="71.0" y="395.1" fill="#00FFFF" text-anchor="end" xml:space="preserve" transform="matrix(1 0 0 1.125 0 -48.400)">4</text>
<text x="71.0" y="422.4" fill="#00FFFF" text-anchor="end" xml:space="preserve" transform="matrix(1 0 0 1.125 0 -51.812)">3</text>
<text x="71.0" y="449.7" fill="#00FFFF" text-anchor="end" xml:space="preserve" transform="matrix(1 0 0 1.125 0 -55.225)">2</text>
<text x="71.0" y="477.1" fill="#00FFFF" text-anchor="end" xml:space="preserve" transform="matrix(1 0 0 1.125 0 -58.650)">1</text>
<text x="71.0" y="504.4" fill="#00FFFF" text-anchor="end" xml:space="preserve" transform="matrix(1 0 0 1.125 0 -62.062)">0</text>
<path d="M73.0 90.50H81.2 M73.0 117.83H77.2 M73.0 145.17H77.2 M73.0 172.50H77.2 M73.0 199.83H77.2 M73.0 227.17H77.2 M73.0 254.50H77.2 M73.0 281.83H77.2 M73.0 309.17H77.2 M73.0 336.50H77.2 M73.0 363.83H77.2 M73.0 391.17H77.2 M73.0 418.50H77.2 M73.0 445.83H77.2 M73.0 473.17H77.2 M73.0 500.50H81.2" stroke="#808080" stroke-width="1" fill="none"/>
<text x="62.0" y="77.7" fill="#00FFFF" transform="matrix(1 0 0 1.125 0 -8.725)">lf</text>
<line x1="114.2" y1="90" x2="114.2" y2="500.5" stroke="#808080" stroke-width="1.1"/>
<text x="108.2" y="94.4" fill="#0000FF" text-anchor="end" xml:space="preserve" transform="matrix(1 0 0 1.125 0 -10.812)">5.0</text>
<text x="108.2" y="176.4" fill="#0000FF" text-anchor="end" xml:space="preserve" transform="matrix(1 0 0 1.125 0 -21.062)">4.0</text>
<text x="108.2" y="258.4" fill="#0000FF" text-anchor="end" xml:space="preserve" transform="matrix(1 0 0 1.125 0 -31.312)">3.0</text>
<text x="108.2" y="340.4" fill="#0000FF" text-anchor="end" xml:space="preserve" transform="matrix(1 0 0 1.125 0 -41.562)">2.0</text>
<text x="108.2" y="422.4" fill="#0000FF" text-anchor="end" xml:space="preserve" transform="matrix(1 0 0 1.125 0 -51.812)">1.0</text>
<text x="108.2" y="504.4" fill="#0000FF" text-anchor="end" xml:space="preserve" transform="matrix(1 0 0 1.125 0 -62.062)">0.0</text>
<path d="M110.0 90.50H118.2 M110.0 172.50H114.2 M110.0 254.50H114.2 M110.0 336.50H114.2 M110.0 418.50H114.2 M110.0 500.50H118.2" stroke="#808080" stroke-width="1" fill="none"/>
<text x="86.5" y="77.7" fill="#0000FF" transform="matrix(1 0 0 1.125 0 -8.725)">l/m²</text>
<line x1="151.4" y1="90" x2="151.4" y2="500.5" stroke="#808080" stroke-width="1.1"/>
<text x="144.8" y="94.4" fill="#808080" text-anchor="end" xml:space="preserve" transform="matrix(1 0 0 1.125 0 -10.812)">360 N</text>
<text x="144.8" y="128.6" fill="#808080" text-anchor="end" xml:space="preserve" transform="matrix(1 0 0 1.125 0 -15.087)">330</text>
<text x="144.8" y="162.7" fill="#808080" text-anchor="end" xml:space="preserve" transform="matrix(1 0 0 1.125 0 -19.350)">300</text>
<text x="144.8" y="196.9" fill="#808080" text-anchor="end" xml:space="preserve" transform="matrix(1 0 0 1.125 0 -23.625)">270 W</text>
<text x="144.8" y="231.1" fill="#808080" text-anchor="end" xml:space="preserve" transform="matrix(1 0 0 1.125 0 -27.900)">240</text>
<text x="144.8" y="265.2" fill="#808080" text-anchor="end" xml:space="preserve" transform="matrix(1 0 0 1.125 0 -32.163)">210</text>
<text x="144.8" y="299.4" fill="#808080" text-anchor="end" xml:space="preserve" transform="matrix(1 0 0 1.125 0 -36.438)">180 S</text>
<text x="144.8" y="333.6" fill="#808080" text-anchor="end" xml:space="preserve" transform="matrix(1 0 0 1.125 0 -40.713)">150</text>
<text x="144.8" y="367.7" fill="#808080" text-anchor="end" xml:space="preserve" transform="matrix(1 0 0 1.125 0 -44.975)">120</text>
<text x="144.8" y="401.9" fill="#808080" text-anchor="end" xml:space="preserve" transform="matrix(1 0 0 1.125 0 -49.250)">90  O</text>
<text x="144.8" y="436.1" fill="#808080" text-anchor="end" xml:space="preserve" transform="matrix(1 0 0 1.125 0 -53.525)">60</text>
<text x="144.8" y="470.2" fill="#808080" text-anchor="end" xml:space="preserve" transform="matrix(1 0 0 1.125 0 -57.788)">30</text>
<text x="144.8" y="504.4" fill="#808080" text-anchor="end" xml:space="preserve" transform="matrix(1 0 0 1.125 0 -62.062)">0   N</text>
<path d="M147.2 90.50H155.4 M147.2 124.67H151.4 M147.2 158.83H151.4 M147.2 193.00H151.4 M147.2 227.17H151.4 M147.2 261.33H151.4 M147.2 295.50H151.4 M147.2 329.67H151.4 M147.2 363.83H151.4 M147.2 398.00H151.4 M147.2 432.17H151.4 M147.2 466.33H151.4 M147.2 500.50H155.4" stroke="#808080" stroke-width="1" fill="none"/>
<text x="138.0" y="77.7" fill="#808080" transform="matrix(1 0 0 1.125 0 -8.725)">°</text>
<text x="181.8" y="94.4" fill="#FFFF00" text-anchor="end" xml:space="preserve" transform="matrix(1 0 0 1.125 0 -10.812)">10.0</text>
<text x="181.8" y="135.4" fill="#FFFF00" text-anchor="end" xml:space="preserve" transform="matrix(1 0 0 1.125 0 -15.938)">9.0</text>
<text x="181.8" y="176.4" fill="#FFFF00" text-anchor="end" xml:space="preserve" transform="matrix(1 0 0 1.125 0 -21.062)">8.0</text>
<text x="181.8" y="217.4" fill="#FFFF00" text-anchor="end" xml:space="preserve" transform="matrix(1 0 0 1.125 0 -26.188)">7.0</text>
<text x="181.8" y="258.4" fill="#FFFF00" text-anchor="end" xml:space="preserve" transform="matrix(1 0 0 1.125 0 -31.312)">6.0</text>
<text x="181.8" y="299.4" fill="#FFFF00" text-anchor="end" xml:space="preserve" transform="matrix(1 0 0 1.125 0 -36.438)">5.0</text>
<text x="181.8" y="340.4" fill="#FFFF00" text-anchor="end" xml:space="preserve" transform="matrix(1 0 0 1.125 0 -41.562)">4.0</text>
<text x="181.8" y="381.4" fill="#FFFF00" text-anchor="end" xml:space="preserve" transform="matrix(1 0 0 1.125 0 -46.688)">3.0</text>
<text x="181.8" y="422.4" fill="#FFFF00" text-anchor="end" xml:space="preserve" transform="matrix(1 0 0 1.125 0 -51.812)">2.0</text>
<text x="181.8" y="463.4" fill="#FFFF00" text-anchor="end" xml:space="preserve" transform="matrix(1 0 0 1.125 0 -56.938)">1.0</text>
<text x="181.8" y="504.4" fill="#FFFF00" text-anchor="end" xml:space="preserve" transform="matrix(1 0 0 1.125 0 -62.062)">0.0</text>
<path d="M183.9 90.50H188.1 M183.9 131.50H188.1 M183.9 172.50H188.1 M183.9 213.50H188.1 M183.9 254.50H188.1 M183.9 295.50H188.1 M183.9 336.50H188.1 M183.9 377.50H188.1 M183.9 418.50H188.1 M183.9 459.50H188.1 M183.9 500.50H188.1" stroke="#808080" stroke-width="1" fill="none"/>
<text x="157.0" y="77.7" fill="#FFFF00" transform="matrix(1 0 0 1.125 0 -8.725)">UV-I</text>
<text x="664.6" y="94.4" fill="#8080FF" text-anchor="start" xml:space="preserve" transform="matrix(1 0 0 1.125 0 -10.812)">100</text>
<text x="664.6" y="135.4" fill="#8080FF" text-anchor="start" xml:space="preserve" transform="matrix(1 0 0 1.125 0 -15.938)">90</text>
<text x="664.6" y="176.4" fill="#8080FF" text-anchor="start" xml:space="preserve" transform="matrix(1 0 0 1.125 0 -21.062)">80</text>
<text x="664.6" y="217.4" fill="#8080FF" text-anchor="start" xml:space="preserve" transform="matrix(1 0 0 1.125 0 -26.188)">70</text>
<text x="664.6" y="258.4" fill="#8080FF" text-anchor="start" xml:space="preserve" transform="matrix(1 0 0 1.125 0 -31.312)">60</text>
<text x="664.6" y="299.4" fill="#8080FF" text-anchor="start" xml:space="preserve" transform="matrix(1 0 0 1.125 0 -36.438)">50</text>
<text x="664.6" y="340.4" fill="#8080FF" text-anchor="start" xml:space="preserve" transform="matrix(1 0 0 1.125 0 -41.562)">40</text>
<text x="664.6" y="381.4" fill="#8080FF" text-anchor="start" xml:space="preserve" transform="matrix(1 0 0 1.125 0 -46.688)">30</text>
<text x="664.6" y="422.4" fill="#8080FF" text-anchor="start" xml:space="preserve" transform="matrix(1 0 0 1.125 0 -51.812)">20</text>
<text x="664.6" y="463.4" fill="#8080FF" text-anchor="start" xml:space="preserve" transform="matrix(1 0 0 1.125 0 -56.938)">10</text>
<text x="664.6" y="504.4" fill="#8080FF" text-anchor="start" xml:space="preserve" transform="matrix(1 0 0 1.125 0 -62.062)">0</text>
<path d="M658.3 90.50H663.0 M658.3 131.50H663.0 M658.3 172.50H663.0 M658.3 213.50H663.0 M658.3 254.50H663.0 M658.3 295.50H663.0 M658.3 336.50H663.0 M658.3 377.50H663.0 M658.3 418.50H663.0 M658.3 459.50H663.0 M658.3 500.50H663.0" stroke="#808080" stroke-width="1" fill="none"/>
<text x="659.0" y="77.7" fill="#8080FF" transform="matrix(1 0 0 1.125 0 -8.725)">%</text>
<line x1="695.7" y1="90" x2="695.7" y2="500.5" stroke="#808080" stroke-width="1.1"/>
<text x="701.6" y="94.4" fill="#FF0080" text-anchor="start" xml:space="preserve" transform="matrix(1 0 0 1.125 0 -10.812)">1020</text>
<text x="701.6" y="145.7" fill="#FF0080" text-anchor="start" xml:space="preserve" transform="matrix(1 0 0 1.125 0 -17.225)">1019</text>
<text x="701.6" y="196.9" fill="#FF0080" text-anchor="start" xml:space="preserve" transform="matrix(1 0 0 1.125 0 -23.625)">1018</text>
<text x="701.6" y="248.2" fill="#FF0080" text-anchor="start" xml:space="preserve" transform="matrix(1 0 0 1.125 0 -30.037)">1017</text>
<text x="701.6" y="299.4" fill="#FF0080" text-anchor="start" xml:space="preserve" transform="matrix(1 0 0 1.125 0 -36.438)">1016</text>
<text x="701.6" y="350.6" fill="#FF0080" text-anchor="start" xml:space="preserve" transform="matrix(1 0 0 1.125 0 -42.838)">1015</text>
<text x="701.6" y="401.9" fill="#FF0080" text-anchor="start" xml:space="preserve" transform="matrix(1 0 0 1.125 0 -49.250)">1014</text>
<text x="701.6" y="453.1" fill="#FF0080" text-anchor="start" xml:space="preserve" transform="matrix(1 0 0 1.125 0 -55.650)">1013</text>
<text x="701.6" y="504.4" fill="#FF0080" text-anchor="start" xml:space="preserve" transform="matrix(1 0 0 1.125 0 -62.062)">1012</text>
<path d="M691.2 90.50H700.4 M695.7 141.75H700.4 M695.7 193.00H700.4 M695.7 244.25H700.4 M695.7 295.50H700.4 M695.7 346.75H700.4 M695.7 398.00H700.4 M695.7 449.25H700.4 M691.2 500.50H700.4" stroke="#808080" stroke-width="1" fill="none"/>
<text x="695.8" y="77.7" fill="#FF0080" transform="matrix(1 0 0 1.125 0 -8.725)">hPa</text>
<line x1="732.8" y1="90" x2="732.8" y2="500.5" stroke="#808080" stroke-width="1.1"/>
<text x="738.8" y="94.4" fill="#000" text-anchor="start" xml:space="preserve" transform="matrix(1 0 0 1.125 0 -10.812)">100.0</text>
<text x="738.8" y="114.9" fill="#000" text-anchor="start" xml:space="preserve" transform="matrix(1 0 0 1.125 0 -13.375)">95.0</text>
<text x="738.8" y="135.4" fill="#000" text-anchor="start" xml:space="preserve" transform="matrix(1 0 0 1.125 0 -15.938)">90.0</text>
<text x="738.8" y="155.9" fill="#000" text-anchor="start" xml:space="preserve" transform="matrix(1 0 0 1.125 0 -18.500)">85.0</text>
<text x="738.8" y="176.4" fill="#000" text-anchor="start" xml:space="preserve" transform="matrix(1 0 0 1.125 0 -21.062)">80.0</text>
<text x="738.8" y="196.9" fill="#000" text-anchor="start" xml:space="preserve" transform="matrix(1 0 0 1.125 0 -23.625)">75.0</text>
<text x="738.8" y="217.4" fill="#000" text-anchor="start" xml:space="preserve" transform="matrix(1 0 0 1.125 0 -26.188)">70.0</text>
<text x="738.8" y="237.9" fill="#000" text-anchor="start" xml:space="preserve" transform="matrix(1 0 0 1.125 0 -28.750)">65.0</text>
<text x="738.8" y="258.4" fill="#000" text-anchor="start" xml:space="preserve" transform="matrix(1 0 0 1.125 0 -31.312)">60.0</text>
<text x="738.8" y="278.9" fill="#000" text-anchor="start" xml:space="preserve" transform="matrix(1 0 0 1.125 0 -33.875)">55.0</text>
<text x="738.8" y="299.4" fill="#000" text-anchor="start" xml:space="preserve" transform="matrix(1 0 0 1.125 0 -36.438)">50.0</text>
<text x="738.8" y="319.9" fill="#000" text-anchor="start" xml:space="preserve" transform="matrix(1 0 0 1.125 0 -39.000)">45.0</text>
<text x="738.8" y="340.4" fill="#000" text-anchor="start" xml:space="preserve" transform="matrix(1 0 0 1.125 0 -41.562)">40.0</text>
<text x="738.8" y="360.9" fill="#000" text-anchor="start" xml:space="preserve" transform="matrix(1 0 0 1.125 0 -44.125)">35.0</text>
<text x="738.8" y="381.4" fill="#000" text-anchor="start" xml:space="preserve" transform="matrix(1 0 0 1.125 0 -46.688)">30.0</text>
<text x="738.8" y="401.9" fill="#000" text-anchor="start" xml:space="preserve" transform="matrix(1 0 0 1.125 0 -49.250)">25.0</text>
<text x="738.8" y="422.4" fill="#000" text-anchor="start" xml:space="preserve" transform="matrix(1 0 0 1.125 0 -51.812)">20.0</text>
<text x="738.8" y="442.9" fill="#000" text-anchor="start" xml:space="preserve" transform="matrix(1 0 0 1.125 0 -54.375)">15.0</text>
<text x="738.8" y="463.4" fill="#000" text-anchor="start" xml:space="preserve" transform="matrix(1 0 0 1.125 0 -56.938)">10.0</text>
<text x="738.8" y="483.9" fill="#000" text-anchor="start" xml:space="preserve" transform="matrix(1 0 0 1.125 0 -59.500)">5.0</text>
<text x="738.8" y="504.4" fill="#000" text-anchor="start" xml:space="preserve" transform="matrix(1 0 0 1.125 0 -62.062)">0.0</text>
<path d="M728.3 90.50H737.5 M732.8 111.00H737.5 M732.8 131.50H737.5 M732.8 152.00H737.5 M732.8 172.50H737.5 M732.8 193.00H737.5 M732.8 213.50H737.5 M732.8 234.00H737.5 M732.8 254.50H737.5 M732.8 275.00H737.5 M732.8 295.50H737.5 M732.8 316.00H737.5 M732.8 336.50H737.5 M732.8 357.00H737.5 M732.8 377.50H737.5 M732.8 398.00H737.5 M732.8 418.50H737.5 M732.8 439.00H737.5 M732.8 459.50H737.5 M732.8 480.00H737.5 M728.3 500.50H737.5" stroke="#808080" stroke-width="1" fill="none"/>
<text x="732.0" y="77.7" fill="#000" transform="matrix(1 0 0 1.125 0 -8.725)">km/h</text>
<line x1="769.6" y1="90" x2="769.6" y2="500.5" stroke="#808080" stroke-width="1.1"/>
<text x="776.0" y="94.4" fill="#FF8000" text-anchor="start" xml:space="preserve" transform="matrix(1 0 0 1.125 0 -10.812)">100</text>
<text x="776.0" y="135.4" fill="#FF8000" text-anchor="start" xml:space="preserve" transform="matrix(1 0 0 1.125 0 -15.938)">90</text>
<text x="776.0" y="176.4" fill="#FF8000" text-anchor="start" xml:space="preserve" transform="matrix(1 0 0 1.125 0 -21.062)">80</text>
<text x="776.0" y="217.4" fill="#FF8000" text-anchor="start" xml:space="preserve" transform="matrix(1 0 0 1.125 0 -26.188)">70</text>
<text x="776.0" y="258.4" fill="#FF8000" text-anchor="start" xml:space="preserve" transform="matrix(1 0 0 1.125 0 -31.312)">60</text>
<text x="776.0" y="299.4" fill="#FF8000" text-anchor="start" xml:space="preserve" transform="matrix(1 0 0 1.125 0 -36.438)">50</text>
<text x="776.0" y="340.4" fill="#FF8000" text-anchor="start" xml:space="preserve" transform="matrix(1 0 0 1.125 0 -41.562)">40</text>
<text x="776.0" y="381.4" fill="#FF8000" text-anchor="start" xml:space="preserve" transform="matrix(1 0 0 1.125 0 -46.688)">30</text>
<text x="776.0" y="422.4" fill="#FF8000" text-anchor="start" xml:space="preserve" transform="matrix(1 0 0 1.125 0 -51.812)">20</text>
<text x="776.0" y="463.4" fill="#FF8000" text-anchor="start" xml:space="preserve" transform="matrix(1 0 0 1.125 0 -56.938)">10</text>
<text x="776.0" y="504.4" fill="#FF8000" text-anchor="start" xml:space="preserve" transform="matrix(1 0 0 1.125 0 -62.062)">0</text>
<path d="M765.1 90.50H774.3 M769.6 131.50H774.3 M769.6 172.50H774.3 M769.6 213.50H774.3 M769.6 254.50H774.3 M769.6 295.50H774.3 M769.6 336.50H774.3 M769.6 377.50H774.3 M769.6 418.50H774.3 M769.6 459.50H774.3 M765.1 500.50H774.3" stroke="#808080" stroke-width="1" fill="none"/>
<text x="769.0" y="77.7" fill="#FF8000" transform="matrix(1 0 0 1.125 0 -8.725)">min</text>
<line x1="806.5" y1="90" x2="806.5" y2="500.5" stroke="#808080" stroke-width="1.1"/>
<text x="812.6" y="94.4" fill="#FFA878" text-anchor="start" xml:space="preserve" transform="matrix(1 0 0 1.125 0 -10.812)">1000</text>
<text x="812.6" y="114.9" fill="#FFA878" text-anchor="start" xml:space="preserve" transform="matrix(1 0 0 1.125 0 -13.375)">950</text>
<text x="812.6" y="135.4" fill="#FFA878" text-anchor="start" xml:space="preserve" transform="matrix(1 0 0 1.125 0 -15.938)">900</text>
<text x="812.6" y="155.9" fill="#FFA878" text-anchor="start" xml:space="preserve" transform="matrix(1 0 0 1.125 0 -18.500)">850</text>
<text x="812.6" y="176.4" fill="#FFA878" text-anchor="start" xml:space="preserve" transform="matrix(1 0 0 1.125 0 -21.062)">800</text>
<text x="812.6" y="196.9" fill="#FFA878" text-anchor="start" xml:space="preserve" transform="matrix(1 0 0 1.125 0 -23.625)">750</text>
<text x="812.6" y="217.4" fill="#FFA878" text-anchor="start" xml:space="preserve" transform="matrix(1 0 0 1.125 0 -26.188)">700</text>
<text x="812.6" y="237.9" fill="#FFA878" text-anchor="start" xml:space="preserve" transform="matrix(1 0 0 1.125 0 -28.750)">650</text>
<text x="812.6" y="258.4" fill="#FFA878" text-anchor="start" xml:space="preserve" transform="matrix(1 0 0 1.125 0 -31.312)">600</text>
<text x="812.6" y="278.9" fill="#FFA878" text-anchor="start" xml:space="preserve" transform="matrix(1 0 0 1.125 0 -33.875)">550</text>
<text x="812.6" y="299.4" fill="#FFA878" text-anchor="start" xml:space="preserve" transform="matrix(1 0 0 1.125 0 -36.438)">500</text>
<text x="812.6" y="319.9" fill="#FFA878" text-anchor="start" xml:space="preserve" transform="matrix(1 0 0 1.125 0 -39.000)">450</text>
<text x="812.6" y="340.4" fill="#FFA878" text-anchor="start" xml:space="preserve" transform="matrix(1 0 0 1.125 0 -41.562)">400</text>
<text x="812.6" y="360.9" fill="#FFA878" text-anchor="start" xml:space="preserve" transform="matrix(1 0 0 1.125 0 -44.125)">350</text>
<text x="812.6" y="381.4" fill="#FFA878" text-anchor="start" xml:space="preserve" transform="matrix(1 0 0 1.125 0 -46.688)">300</text>
<text x="812.6" y="401.9" fill="#FFA878" text-anchor="start" xml:space="preserve" transform="matrix(1 0 0 1.125 0 -49.250)">250</text>
<text x="812.6" y="422.4" fill="#FFA878" text-anchor="start" xml:space="preserve" transform="matrix(1 0 0 1.125 0 -51.812)">200</text>
<text x="812.6" y="442.9" fill="#FFA878" text-anchor="start" xml:space="preserve" transform="matrix(1 0 0 1.125 0 -54.375)">150</text>
<text x="812.6" y="463.4" fill="#FFA878" text-anchor="start" xml:space="preserve" transform="matrix(1 0 0 1.125 0 -56.938)">100</text>
<text x="812.6" y="483.9" fill="#FFA878" text-anchor="start" xml:space="preserve" transform="matrix(1 0 0 1.125 0 -59.500)">50</text>
<text x="812.6" y="504.4" fill="#FFA878" text-anchor="start" xml:space="preserve" transform="matrix(1 0 0 1.125 0 -62.062)">0</text>
<path d="M802.0 90.50H811.2 M806.5 111.00H811.2 M806.5 131.50H811.2 M806.5 152.00H811.2 M806.5 172.50H811.2 M806.5 193.00H811.2 M806.5 213.50H811.2 M806.5 234.00H811.2 M806.5 254.50H811.2 M806.5 275.00H811.2 M806.5 295.50H811.2 M806.5 316.00H811.2 M806.5 336.50H811.2 M806.5 357.00H811.2 M806.5 377.50H811.2 M806.5 398.00H811.2 M806.5 418.50H811.2 M806.5 439.00H811.2 M806.5 459.50H811.2 M806.5 480.00H811.2 M802.0 500.50H811.2" stroke="#808080" stroke-width="1" fill="none"/>
<text x="806.0" y="77.7" fill="#FFA878" transform="matrix(1 0 0 1.125 0 -8.725)">W/m²</text>
<text x="189.3" y="518.1" text-anchor="middle" transform="matrix(1 0 0 1.125 0 -63.775)">00:00</text>
<text x="228.4" y="518.1" text-anchor="middle" transform="matrix(1 0 0 1.125 0 -63.775)">02:00</text>
<text x="267.6" y="518.1" text-anchor="middle" transform="matrix(1 0 0 1.125 0 -63.775)">04:00</text>
<text x="306.7" y="518.1" text-anchor="middle" transform="matrix(1 0 0 1.125 0 -63.775)">06:00</text>
<text x="345.9" y="518.1" text-anchor="middle" transform="matrix(1 0 0 1.125 0 -63.775)">08:00</text>
<text x="385.1" y="518.1" text-anchor="middle" transform="matrix(1 0 0 1.125 0 -63.775)">10:00</text>
<text x="424.2" y="518.1" text-anchor="middle" transform="matrix(1 0 0 1.125 0 -63.775)">12:00</text>
<text x="463.3" y="518.1" text-anchor="middle" transform="matrix(1 0 0 1.125 0 -63.775)">14:00</text>
<text x="502.5" y="518.1" text-anchor="middle" transform="matrix(1 0 0 1.125 0 -63.775)">16:00</text>
<text x="541.6" y="518.1" text-anchor="middle" transform="matrix(1 0 0 1.125 0 -63.775)">18:00</text>
<text x="580.8" y="518.1" text-anchor="middle" transform="matrix(1 0 0 1.125 0 -63.775)">20:00</text>
<text x="620.0" y="518.1" text-anchor="middle" transform="matrix(1 0 0 1.125 0 -63.775)">22:00</text>
<text x="659.1" y="518.1" text-anchor="middle" transform="matrix(1 0 0 1.125 0 -63.775)">24:00</text>
<text x="11" y="529.7" transform="matrix(1 0 0 1.125 0 -65.225)">09:54</text>
<text x="226.5" y="529.7" transform="matrix(1 0 0 1.125 0 -65.225)">01:37</text>
<text x="305.8" y="529.7" transform="matrix(1 0 0 1.125 0 -65.225)">07:42</text>
<text x="402.4" y="529.7" transform="matrix(1 0 0 1.125 0 -65.225)">10:33</text>
<text x="499.6" y="529.7" transform="matrix(1 0 0 1.125 0 -65.225)">17:37</text>
<path d="M40.2 529.2 a4.4 6 0 0 1 8.8 0z" fill="#FFFF00"/>
<path d="M217 520.1H220V522H221.5L218.6 528.8L215.8 522H217Z" fill="#FFFF00"/>
<path d="M221.6 522.4L218.7 528.9" stroke="#000" stroke-width="1.1" stroke-dasharray="1 1.1" fill="none"/>
<path d="M215.6 522.2L218.2 528" stroke="#5050D0" stroke-width="1" stroke-dasharray="1 1.1" fill="none"/>
<path d="M219.6 527.7H226" stroke="#3030B0" stroke-width="1" stroke-dasharray="1.3 1.5" fill="none"/>
<path d="M220.5 529v2M225.5 529v2" stroke="#C8C8F0" stroke-width="1" fill="none"/>
<circle cx="339" cy="526" r="5.6" fill="none" stroke="#FFFF90" stroke-width="1.6" stroke-dasharray="1.6 2.8"/>
<circle cx="339" cy="526" r="3.1" fill="#FFFF00"/>
<rect x="390.5" y="520.6" width="4.9" height="4.9" fill="none" stroke="#3030B0" stroke-width="1" stroke-dasharray="1.3 2.3" stroke-dashoffset="0.6"/>
<path d="M397.4 522L400.4 528.3H398.9V531H396V528.3H394.4Z" fill="#FFFF00"/>
<path d="M397.4 521.8L394.3 528.5" stroke="#000" stroke-width="1.1" stroke-dasharray="1 1.1" fill="none"/>
<path d="M398.4 523.6L400.8 528.6" stroke="#6060E0" stroke-width="1" stroke-dasharray="1 1.1" fill="none"/>
<rect x="531" y="524.2" width="4.5" height="4" fill="#fff" stroke="#FFFF00" stroke-width="1.1"/>
<rect x="1" y="539" width="843" height="77" fill="#C0C0C0"/>
<rect x="87" y="539" width="1" height="76" fill="#8C8870"/><rect x="88" y="539" width="1" height="76" fill="#fff"/>
<rect x="204" y="539" width="1" height="76" fill="#8C8870"/><rect x="205" y="539" width="1" height="76" fill="#fff"/>
<rect x="322" y="539" width="1" height="76" fill="#8C8870"/><rect x="323" y="539" width="1" height="76" fill="#fff"/>
<rect x="440" y="539" width="1" height="76" fill="#8C8870"/><rect x="441" y="539" width="1" height="76" fill="#fff"/>
<rect x="558" y="539" width="1" height="76" fill="#8C8870"/><rect x="559" y="539" width="1" height="76" fill="#fff"/>
<rect x="676" y="539" width="1" height="76" fill="#8C8870"/><rect x="677" y="539" width="1" height="76" fill="#fff"/>
<rect x="794" y="539" width="1" height="76" fill="#8C8870"/><rect x="795" y="539" width="1" height="76" fill="#fff"/>
<rect x="843" y="539" width="1" height="76" fill="#8C8870"/>
<text x="8.8" y="556.4" text-anchor="start" class="b" textLength="38.3" lengthAdjust="spacingAndGlyphs" transform="matrix(1 0 0 1.125 0 -68.562)">Sensor</text>
<text x="8.8" y="572.4" text-anchor="start" class="b" textLength="46.1" lengthAdjust="spacingAndGlyphs" transform="matrix(1 0 0 1.125 0 -70.562)">MinWert</text>
<text x="8.8" y="588.4" text-anchor="start" class="b" textLength="49.4" lengthAdjust="spacingAndGlyphs" transform="matrix(1 0 0 1.125 0 -72.562)">MaxWert</text>
<text x="8.8" y="604.4" text-anchor="start" class="b" textLength="71.4" lengthAdjust="spacingAndGlyphs" transform="matrix(1 0 0 1.125 0 -74.562)">Durchschnitt</text>
<text x="8.8" y="619.8" text-anchor="start" class="b" textLength="71" lengthAdjust="spacingAndGlyphs" transform="matrix(1 0 0 1.125 0 -76.487)">11.02. 23:55</text>
<text x="95.3" y="556.4" text-anchor="start" class="b" textLength="30.9" lengthAdjust="spacingAndGlyphs" transform="matrix(1 0 0 1.125 0 -68.562)">T- 2m</text>
<text x="198.3" y="556.4" text-anchor="end" class="b" textLength="11.9" lengthAdjust="spacingAndGlyphs" transform="matrix(1 0 0 1.125 0 -68.562)">°C</text>
<text x="100.6" y="572.4" text-anchor="start" transform="matrix(1 0 0 1.125 0 -70.562)">00:05</text>
<text x="198.3" y="572.4" text-anchor="end" transform="matrix(1 0 0 1.125 0 -70.562)">7.4</text>
<text x="100.6" y="588.4" text-anchor="start" transform="matrix(1 0 0 1.125 0 -72.562)">15:00</text>
<text x="198.3" y="588.4" text-anchor="end" transform="matrix(1 0 0 1.125 0 -72.562)">12.3</text>
<text x="100.6" y="604.4" text-anchor="start" transform="matrix(1 0 0 1.125 0 -74.562)">(+ 7.28 )</text>
<text x="198.3" y="604.4" text-anchor="end" transform="matrix(1 0 0 1.125 0 -74.562)">9.78</text>
<text x="198.3" y="619.8" text-anchor="end" class="b" transform="matrix(1 0 0 1.125 0 -76.487)">9.9</text>
<text x="212.6" y="556.4" text-anchor="start" class="b" textLength="30.5" lengthAdjust="spacingAndGlyphs" transform="matrix(1 0 0 1.125 0 -68.562)">F- 2m</text>
<text x="316.2" y="556.4" text-anchor="end" class="b" transform="matrix(1 0 0 1.125 0 -68.562)">%</text>
<text x="218.7" y="572.4" text-anchor="start" transform="matrix(1 0 0 1.125 0 -70.562)">14:55</text>
<text x="316.2" y="572.4" text-anchor="end" transform="matrix(1 0 0 1.125 0 -70.562)">82</text>
<text x="218.7" y="588.4" text-anchor="start" transform="matrix(1 0 0 1.125 0 -72.562)">00:40</text>
<text x="316.2" y="588.4" text-anchor="end" transform="matrix(1 0 0 1.125 0 -72.562)">92</text>
<text x="316.2" y="604.4" text-anchor="end" transform="matrix(1 0 0 1.125 0 -74.562)">88</text>
<text x="215.4" y="619.8" text-anchor="start" transform="matrix(1 0 0 1.125 0 -76.487)">8.22 g/m³</text>
<text x="316.2" y="619.8" text-anchor="end" class="b" transform="matrix(1 0 0 1.125 0 -76.487)">90</text>
<text x="330.5" y="556.4" text-anchor="start" class="b" textLength="53" lengthAdjust="spacingAndGlyphs" transform="matrix(1 0 0 1.125 0 -68.562)">Luftdruck</text>
<text x="434.0" y="556.4" text-anchor="end" class="b" textLength="21.5" lengthAdjust="spacingAndGlyphs" transform="matrix(1 0 0 1.125 0 -68.562)">hPa</text>
<text x="336.7" y="572.4" text-anchor="start" transform="matrix(1 0 0 1.125 0 -70.562)">14:40</text>
<text x="434.0" y="572.4" text-anchor="end" transform="matrix(1 0 0 1.125 0 -70.562)">1013.4</text>
<text x="336.7" y="588.4" text-anchor="start" transform="matrix(1 0 0 1.125 0 -72.562)">00:00</text>
<text x="434.0" y="588.4" text-anchor="end" transform="matrix(1 0 0 1.125 0 -72.562)">1016.5</text>
<text x="330.5" y="604.4" text-anchor="start" transform="matrix(1 0 0 1.125 0 -74.562)">^0.7hPa/h</text>
<text x="434.0" y="604.4" text-anchor="end" transform="matrix(1 0 0 1.125 0 -74.562)">1014.4</text>
<text x="336.7" y="619.8" text-anchor="start" transform="matrix(1 0 0 1.125 0 -76.487)">veränderlich</text>
<text x="434.0" y="619.8" text-anchor="end" class="b" transform="matrix(1 0 0 1.125 0 -76.487)">1014.5</text>
<text x="448.5" y="556.4" text-anchor="start" class="b" textLength="56.8" lengthAdjust="spacingAndGlyphs" transform="matrix(1 0 0 1.125 0 -68.562)">Windböen</text>
<text x="552.0" y="556.4" text-anchor="end" class="b" textLength="28.5" lengthAdjust="spacingAndGlyphs" transform="matrix(1 0 0 1.125 0 -68.562)">km/h</text>
<text x="448.5" y="572.4" text-anchor="start" transform="matrix(1 0 0 1.125 0 -70.562)">Ø 10 min.</text>
<text x="552.0" y="572.4" text-anchor="end" transform="matrix(1 0 0 1.125 0 -70.562)">1.6</text>
<text x="454.8" y="588.4" text-anchor="start" transform="matrix(1 0 0 1.125 0 -72.562)">14:30</text>
<text x="552.0" y="588.4" text-anchor="end" transform="matrix(1 0 0 1.125 0 -72.562)">SW 20.9</text>
<text x="552.0" y="604.4" text-anchor="end" transform="matrix(1 0 0 1.125 0 -74.562)">8.6</text>
<text x="454.8" y="619.8" text-anchor="start" transform="matrix(1 0 0 1.125 0 -76.487)">0 Bft N</text>
<text x="552.0" y="619.8" text-anchor="end" class="b" transform="matrix(1 0 0 1.125 0 -76.487)">0.0</text>
<text x="566.6" y="556.4" text-anchor="start" class="b" textLength="36.8" lengthAdjust="spacingAndGlyphs" transform="matrix(1 0 0 1.125 0 -68.562)">Regen</text>
<text x="670.2" y="556.4" text-anchor="end" class="b" textLength="21.6" lengthAdjust="spacingAndGlyphs" transform="matrix(1 0 0 1.125 0 -68.562)">l/m²</text>
<text x="566.6" y="572.4" text-anchor="start" transform="matrix(1 0 0 1.125 0 -70.562)">7:15 h</text>
<text x="572.4" y="588.4" text-anchor="start" transform="matrix(1 0 0 1.125 0 -72.562)">10:55</text>
<text x="670.2" y="588.4" text-anchor="end" transform="matrix(1 0 0 1.125 0 -72.562)">0.2</text>
<text x="566.6" y="604.4" text-anchor="start" transform="matrix(1 0 0 1.125 0 -74.562)">Gesamt:</text>
<text x="670.2" y="604.4" text-anchor="end" transform="matrix(1 0 0 1.125 0 -74.562)">0.8</text>
<text x="570.0" y="619.8" text-anchor="start" transform="matrix(1 0 0 1.125 0 -76.487)">0.0 l/m²</text>
<text x="670.2" y="619.8" text-anchor="end" class="b" transform="matrix(1 0 0 1.125 0 -76.487)">0.0</text>
<text x="684.3" y="556.4" text-anchor="start" class="b" textLength="57.7" lengthAdjust="spacingAndGlyphs" transform="matrix(1 0 0 1.125 0 -68.562)">PMV+1:13</text>
<text x="684.3" y="572.4" text-anchor="start" transform="matrix(1 0 0 1.125 0 -70.562)">WC 9.9 °C</text>
<text x="684.3" y="588.4" text-anchor="start" transform="matrix(1 0 0 1.125 0 -72.562)">TP 8.2 °C</text>
<text x="684.3" y="604.4" text-anchor="start" transform="matrix(1 0 0 1.125 0 -74.562)">0.3hPa/3h</text>
<text x="684.3" y="619.8" text-anchor="start" transform="matrix(1 0 0 1.125 0 -76.487)">0.1hPa/1h</text>
</svg></body></html>
